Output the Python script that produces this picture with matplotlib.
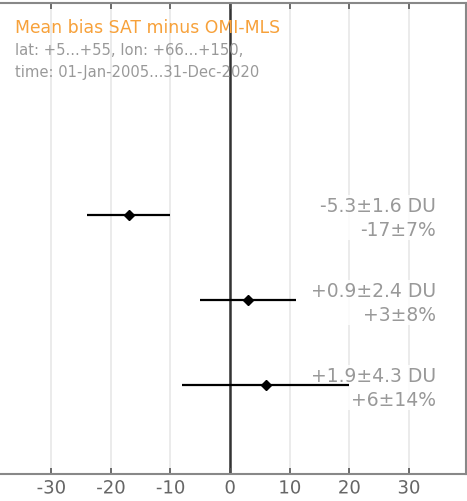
import matplotlib
matplotlib.use("Agg")
import matplotlib.pyplot as plt
import matplotlib.patheffects as pe

# dados do gráfico (bias em %, incerteza em %, rótulos)
bias_pct = [-17, 3, 6]
err_pct = [7, 8, 14]
rotulo_du = ["-5.3\u00b11.6 DU", "+0.9\u00b12.4 DU", "+1.9\u00b14.3 DU"]
rotulo_pct = ["-17\u00b17%", "+3\u00b18%", "+6\u00b114%"]
pos_y = [3, 2, 1]
ticks_x = [-30, -20, -10, 0, 10, 20, 30]

titulo = "Mean bias SAT minus OMI-MLS"
subtitulo = ["lat: +5...+55, lon: +66...+150,", "time: 01-Jan-2005...31-Dec-2020"]

cinza = "#999999"
laranja = "#f7a13a"

fig = plt.figure(figsize=(4.67, 5.02), dpi=100)
ax = fig.add_axes([0.0, 0.054, 0.998, 0.938])
ax.set_xlim(-38.6, 39.6)
ax.set_ylim(-0.05, 5.5)

# grelha vertical e linha do zero
for t in ticks_x:
    ax.axvline(t, color="#e8e8e8", lw=1.2, zorder=0)
ax.axvline(0, color="#333333", lw=1.8, zorder=1)

# barras de erro e pontos
ax.errorbar(bias_pct, pos_y, xerr=err_pct, fmt="D", color="black",
            ms=5.5, elinewidth=1.6, capsize=0, zorder=3)

# rótulos à direita
for y, a, b in zip(pos_y, rotulo_du, rotulo_pct):
    ax.text(0.936, y - 0.03, a + "\n" + b, transform=ax.get_yaxis_transform(),
            ha="right", va="center", fontsize=13.5, color=cinza,
            linespacing=1.3, zorder=2,
            bbox=dict(facecolor="white", edgecolor="none", alpha=0.85, pad=1))

# título e subtítulo
fig.text(0.032, 0.944, titulo, color=laranja, fontsize=12.4, va="center")
fig.text(0.032, 0.900, subtitulo[0], color=cinza, fontsize=10.6, va="center")
fig.text(0.032, 0.856, subtitulo[1], color=cinza, fontsize=10.6, va="center")

# eixos
ax.set_yticks([])
ax.set_xticks(ticks_x)
ax.set_xticklabels([str(t) for t in ticks_x])
ax.tick_params(axis="x", direction="in", length=4, width=1.2, color="#555555",
               labelsize=13, labelcolor="#666666", top=True, pad=4)
for lab in ax.get_xticklabels():
    lab.set_path_effects([pe.withStroke(linewidth=2.5, foreground="white")])
for lado in ["top", "bottom", "right"]:
    ax.spines[lado].set_color("#888888")
    ax.spines[lado].set_linewidth(1.5)
ax.spines["left"].set_visible(False)

fig.savefig("out.png", dpi=100)
